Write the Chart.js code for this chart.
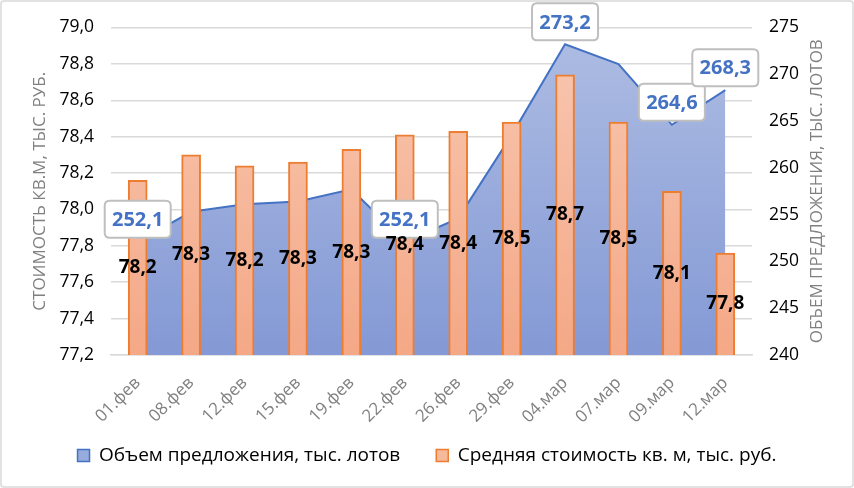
<!DOCTYPE html>
<html><head><meta charset="utf-8">
<script src="https://cdn.jsdelivr.net/npm/chart.js@4/dist/chart.umd.min.js"></script>
<style>html,body{margin:0;padding:0;background:#fff;}#wrap{width:854px;height:488px;}</style>
</head><body><div id="wrap"><canvas id="c" width="854" height="488"></canvas></div>
<script>
const categories = ['01.фев','08.фев','12.фев','15.фев','19.фев','22.фев','26.фев','29.фев','04.мар','07.мар','09.мар','12.мар'];
const offerVolume = [252.1, 255.3, 256.1, 256.4, 257.7, 252.1, 254.6, 263.5, 273.2, 271.1, 264.6, 268.3];
const pricePerSqm = [78.16, 78.30, 78.24, 78.26, 78.33, 78.41, 78.43, 78.48, 78.74, 78.48, 78.10, 77.76];
const labelledVolumeIdx = [0, 5, 8, 10, 11];
const seriesNames = ['Объем предложения, тыс. лотов', 'Средняя стоимость кв. м, тыс. руб.'];
const leftAxisTitle = 'СТОИМОСТЬ КВ.М, ТЫС. РУБ.';
const rightAxisTitle = 'ОБЪЕМ ПРЕДЛОЖЕНИЯ, ТЫС. ЛОТОВ';
const leftRange = [77.2, 79.0, 0.2];
const rightRange = [240, 275, 5];

const FONT = "'Open Sans', 'Noto Sans', sans-serif";
const fmt = v => Number(v).toFixed(1).replace('.', ',');

function vGrad(ctx, c1, c2) {
  const ch = ctx.chart; const a = ch.chartArea;
  if (!a) return c2;
  const g = ch.ctx.createLinearGradient(0, a.top, 0, a.bottom);
  g.addColorStop(0, c1); g.addColorStop(1, c2);
  return g;
}
function rr(ctx, x, y, w, h, r) {
  ctx.beginPath();
  ctx.moveTo(x + r, y); ctx.lineTo(x + w - r, y); ctx.quadraticCurveTo(x + w, y, x + w, y + r);
  ctx.lineTo(x + w, y + h - r); ctx.quadraticCurveTo(x + w, y + h, x + w - r, y + h);
  ctx.lineTo(x + r, y + h); ctx.quadraticCurveTo(x, y + h, x, y + h - r);
  ctx.lineTo(x, y + r); ctx.quadraticCurveTo(x, y, x + r, y); ctx.closePath();
}

const decor = {
  id: 'decor',
  beforeDraw(chart) {
    const ctx = chart.ctx;
    ctx.save();
    ctx.fillStyle = '#fff'; ctx.fillRect(0, 0, chart.width, chart.height);
    ctx.strokeStyle = '#d9d9d9'; ctx.lineWidth = 1.5;
    rr(ctx, 1, 1, chart.width - 2, chart.height - 2, 3); ctx.stroke();
    ctx.restore();
  },
  afterDraw(chart) {
    const ctx = chart.ctx; const s = chart.scales.yR; const a = chart.chartArea;
    ctx.save();
    ctx.translate(s.right - 37, (a.top + a.bottom) / 2);
    ctx.rotate(-Math.PI / 2);
    ctx.font = "17px " + FONT; ctx.fillStyle = '#808080';
    ctx.textAlign = 'center'; ctx.textBaseline = 'middle';
    ctx.fillText(rightAxisTitle, 0, 0);
    ctx.restore();
  },
  afterDatasetsDraw(chart) {
    const ctx = chart.ctx;
    const xs = chart.scales.x, yL = chart.scales.yL, yR = chart.scales.yR;
    ctx.save();
    ctx.textAlign = 'center'; ctx.textBaseline = 'middle';
    // area callouts
    labelledVolumeIdx.forEach(i => {
      const px = xs.getPixelForValue(i);
      const py = yR.getPixelForValue(offerVolume[i]);
      const w = 66, h = 37;
      const x = px - w / 2, y = py - 4 - h;
      ctx.fillStyle = '#fff'; ctx.strokeStyle = '#bfbfbf'; ctx.lineWidth = 2;
      rr(ctx, x, y, w, h, 5); ctx.fill(); ctx.stroke();
      ctx.fillStyle = '#4472C4'; ctx.font = "bold 20px " + FONT;
      ctx.fillText(fmt(offerVolume[i]), px, y + h / 2 + 1);
    });
    // bar labels (centered in each bar)
    const basePx = yL.getPixelForValue(yL.min);
    ctx.font = "bold 19px " + FONT; ctx.fillStyle = '#000000';
    pricePerSqm.forEach((v, i) => {
      const px = xs.getPixelForValue(i);
      const py = yL.getPixelForValue(v);
      ctx.fillText(fmt(v), px, (py + basePx) / 2);
    });
    ctx.restore();
  }
};

new Chart(document.getElementById('c'), {
  data: {
    labels: categories,
    datasets: [
      {
        type: 'line', label: seriesNames[0], data: offerVolume, yAxisID: 'yR', order: 2,
        borderColor: '#4472C4', borderWidth: 2, pointRadius: 0, tension: 0, fill: 'start',
        backgroundColor: c => vGrad(c, '#aebde3', '#8499d5'),
        legendFill: '#97abdd', legendStroke: '#4472C4'
      },
      {
        type: 'bar', label: seriesNames[1], data: pricePerSqm, yAxisID: 'yL', order: 1,
        borderColor: '#ED7D31', borderWidth: 2, borderSkipped: false, barThickness: 19,
        backgroundColor: c => vGrad(c, '#f8c8b2', '#f4a886'),
        legendFill: '#f6b999', legendStroke: '#ED7D31'
      }
    ]
  },
  options: {
    responsive: false, animation: false, devicePixelRatio: 1,
    layout: { padding: { left: 0, right: 0, top: 24, bottom: 13 } },
    plugins: {
      tooltip: { enabled: false },
      legend: {
        position: 'bottom',
        labels: {
          boxWidth: 12, boxHeight: 12, padding: 36, color: '#000',
          font: { family: FONT, size: 19 },
          generateLabels: chart => chart.data.datasets.map((ds, i) => ({
            text: ds.label, fillStyle: ds.legendFill, strokeStyle: ds.legendStroke,
            lineWidth: 1.5, hidden: false, datasetIndex: i, fontColor: '#000'
          }))
        }
      }
    },
    scales: {
      x: {
        offset: true,
        grid: { display: false },
        border: { display: true, color: '#d9d9d9', width: 1.5 },
        ticks: { maxRotation: 45, minRotation: 45, color: '#808080', font: { family: FONT, size: 17 }, padding: 10, autoSkip: false },
        afterFit: s => { s.height = 55; s._computeLabelArea = () => undefined; }
      },
      yL: {
        position: 'left', min: leftRange[0], max: leftRange[1],
        ticks: { stepSize: leftRange[2], callback: v => fmt(v), color: '#000', font: { family: FONT, size: 17.5 }, padding: 17 },
        grid: { color: '#d9d9d9', lineWidth: 1.5, drawTicks: false },
        border: { display: false },
        title: { display: true, text: leftAxisTitle, color: '#808080', font: { family: FONT, size: 17 }, padding: { top: 30, bottom: 0 } },
        afterFit: s => { s.width = 111; }
      },
      yR: {
        position: 'right', min: rightRange[0], max: rightRange[1],
        ticks: { stepSize: rightRange[2], color: '#000', font: { family: FONT, size: 17.5 }, padding: 17 },
        grid: { display: false, drawTicks: false },
        border: { display: false },
        afterFit: s => { s.width = 102; }
      }
    }
  },
  plugins: [decor]
});
</script></body></html>
